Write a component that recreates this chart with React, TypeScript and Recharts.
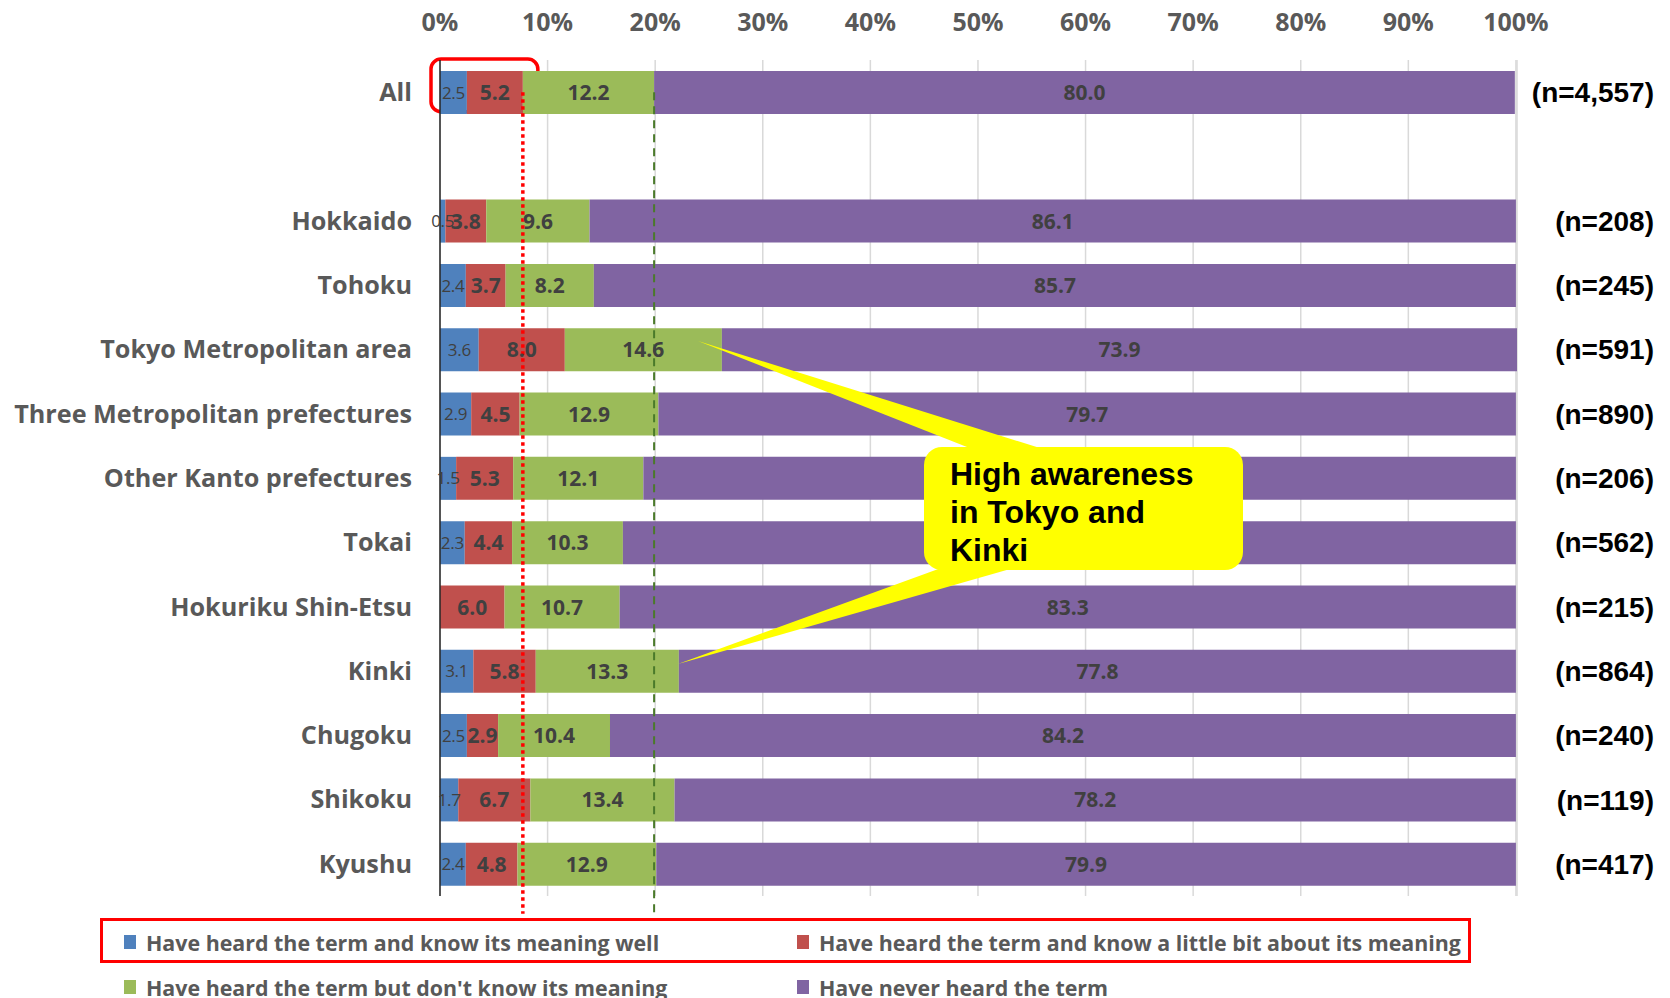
import React from 'react';
import {
  BarChart,
  Bar,
  XAxis,
  YAxis,
  CartesianGrid,
  LabelList,
  ReferenceLine,
  ReferenceArea,
  Legend,
} from 'recharts';

// Regions (the blank entry leaves a gap below "All")
const categories = [
  'All',
  ' ',
  'Hokkaido',
  'Tohoku',
  'Tokyo Metropolitan area',
  'Three Metropolitan prefectures',
  'Other Kanto prefectures',
  'Tokai',
  'Hokuriku Shin-Etsu',
  'Kinki',
  'Chugoku',
  'Shikoku',
  'Kyushu',
];

// Shares in percent
const knowWell = [2.5, null, 0.5, 2.4, 3.6, 2.9, 1.5, 2.3, 0.0, 3.1, 2.5, 1.7, 2.4];
const knowLittle = [5.2, null, 3.8, 3.7, 8.0, 4.5, 5.3, 4.4, 6.0, 5.8, 2.9, 6.7, 4.8];
const noMeaning = [12.2, null, 9.6, 8.2, 14.6, 12.9, 12.1, 10.3, 10.7, 13.3, 10.4, 13.4, 12.9];
const neverHeard = [80.0, null, 86.1, 85.7, 73.9, 79.7, 81.1, 83.0, 83.3, 77.8, 84.2, 78.2, 79.9];

// Respondents per region
const sampleSizes = [4557, null, 208, 245, 591, 890, 206, 562, 215, 864, 240, 119, 417];

const percentTicks = [0, 10, 20, 30, 40, 50, 60, 70, 80, 90, 100];

const LABEL_FONT = '"Open Sans", Lato, sans-serif';
const ARIAL = '"Liberation Sans", Arial, sans-serif';
const TEXT_GRAY = '#595959';
const VALUE_GRAY = '#404040';

const series = [
  { key: 'knowWell', name: 'Have heard the term and know its meaning well', color: '#4F81BD', fontSize: 17, fontWeight: 400, spacing: -0.3 },
  { key: 'knowLittle', name: 'Have heard the term and know a little bit about its meaning', color: '#C0504D', fontSize: 21, fontWeight: 700, spacing: 0 },
  { key: 'noMeaning', name: "Have heard the term but don't know its meaning", color: '#9BBB59', fontSize: 21, fontWeight: 700, spacing: 0 },
  { key: 'neverHeard', name: 'Have never heard the term', color: '#8064A2', fontSize: 21, fontWeight: 700, spacing: 0 },
];

const data = categories.map((name, i) => ({
  name,
  knowWell: knowWell[i],
  knowLittle: knowLittle[i],
  noMeaning: noMeaning[i],
  neverHeard: neverHeard[i],
  n: sampleSizes[i],
}));

// Cumulative shares for the "All" row, used by the guide lines
const knowSomeAll = (knowWell[0] as number) + (knowLittle[0] as number);
const heardAll = knowSomeAll + (noMeaning[0] as number);

const formatN = (n: number | null) => (n == null ? '' : `(n=${n.toLocaleString('en-US')})`);

function segmentLabel(fontSize: number, fontWeight: number, spacing: number) {
  return (props: any) => {
    const v = props.value;
    if (v === null || v === undefined || v === 0) return null;
    const vb = props.viewBox ?? props;
    const cx = vb.x + vb.width / 2;
    const cy = vb.y + vb.height / 2;
    return (
      <text
        x={cx}
        y={cy}
        dy="0.36em"
        textAnchor="middle"
        fontFamily={LABEL_FONT}
        fontSize={fontSize}
        fontWeight={fontWeight}
        letterSpacing={spacing}
        fill={VALUE_GRAY}
      >
        {Number(v).toFixed(1)}
      </text>
    );
  };
}

const guideLine = (stroke: string, width: number, dash: string) => (props: any) => (
  <line
    x1={props.x1}
    y1={props.y1}
    x2={props.x2}
    y2={props.y2 + 50}
    stroke={stroke}
    strokeWidth={width}
    strokeDasharray={dash}
  />
);

const highlightBox = (props: any) => (
  <rect
    x={props.x - 9}
    y={props.y - 1}
    width={props.width + 24}
    height={props.height * 0.82}
    rx={10}
    ry={10}
    fill="none"
    stroke="#FF0000"
    strokeWidth={3.5}
  />
);

const nTick = (props: any) => {
  const idx = props.payload?.index ?? categories.indexOf(props.payload?.value);
  return (
    <text
      x={props.x + 137}
      y={props.y}
      dy="0.36em"
      textAnchor="end"
      fontFamily={ARIAL}
      fontSize={28}
      fontWeight={700}
      fill="#000000"
    >
      {formatN(sampleSizes[idx] ?? null)}
    </text>
  );
};

const legendContent = () => (
  <div style={{ position: 'relative', width: 1380, height: 82, fontFamily: LABEL_FONT }}>
    <div
      style={{
        position: 'absolute',
        left: 1,
        top: 2,
        width: 1371,
        height: 45,
        border: '3.5px solid #FF0000',
        boxSizing: 'border-box',
      }}
    />
    {series.map((s, i) => {
      const col = i % 2;
      const row = Math.floor(i / 2);
      const left = col === 0 ? 25 : 698;
      const centerY = row === 0 ? 26 : 71;
      return (
        <div
          key={s.key}
          style={{
            position: 'absolute',
            left,
            top: centerY - 14,
            height: 28,
            display: 'flex',
            alignItems: 'center',
            whiteSpace: 'nowrap',
          }}
        >
          <span style={{ display: 'inline-block', width: 12, height: 14, background: s.color, marginRight: 10 }} />
          <span style={{ fontSize: 21.4, fontWeight: 700, color: TEXT_GRAY }}>{s.name}</span>
        </div>
      );
    })}
  </div>
);

export default function App() {
  return (
    <div style={{ position: 'absolute', left: 0, top: 0, width: 1670, height: 998, background: '#FFFFFF' }}>
      <BarChart
        width={1670}
        height={998}
        data={data}
        layout="vertical"
        margin={{ top: 0, right: 0, bottom: 102, left: 0 }}
        barSize={43}
      >
        <CartesianGrid horizontal={false} stroke="#D9D9D9" strokeWidth={1.5} yAxisId="left" />
        <XAxis
          type="number"
          orientation="top"
          domain={[0, 100]}
          ticks={percentTicks}
          tickFormatter={(v: number) => `${v}%`}
          height={60}
          axisLine={false}
          tickLine={false}
          tickSize={0}
          tickMargin={29}
          interval={0}
          tick={{ fontFamily: LABEL_FONT, fontSize: 25, fontWeight: 700, fill: TEXT_GRAY }}
        />
        <YAxis
          yAxisId="left"
          type="category"
          dataKey="name"
          width={440}
          interval={0}
          axisLine={{ stroke: '#262626', strokeWidth: 1.5 }}
          tickLine={false}
          tickSize={0}
          tickMargin={28}
          tick={{ fontFamily: LABEL_FONT, fontSize: 25.2, fontWeight: 700, fill: TEXT_GRAY }}
        />
        <YAxis
          yAxisId="right"
          orientation="right"
          type="category"
          dataKey="name"
          width={153}
          interval={0}
          axisLine={false}
          tickLine={false}
          tickSize={0}
          tickMargin={0}
          tick={nTick}
        />
        {series.map((s) => (
          <Bar
            key={s.key}
            yAxisId="left"
            dataKey={s.key}
            name={s.name}
            stackId="share"
            fill={s.color}
            isAnimationActive={false}
          >
            <LabelList dataKey={s.key} content={segmentLabel(s.fontSize, s.fontWeight, s.spacing)} />
          </Bar>
        ))}
        <ReferenceArea
          yAxisId="left"
          x1={0}
          x2={knowSomeAll}
          y1="All"
          y2="All"
          shape={highlightBox}
          ifOverflow="visible"
        />
        <ReferenceLine
          yAxisId="left"
          segment={[
            { x: knowSomeAll, y: 'All' },
            { x: knowSomeAll, y: 'Kyushu' },
          ]}
          shape={guideLine('#FF0000', 3.5, '3.5 3.5')}
          ifOverflow="visible"
        />
        <ReferenceLine
          yAxisId="left"
          segment={[
            { x: heardAll, y: 'All' },
            { x: heardAll, y: 'Kyushu' },
          ]}
          shape={guideLine('#4A7A2A', 2, '8 6')}
          ifOverflow="visible"
        />
        <Legend
          layout="horizontal"
          verticalAlign="middle"
          align="center"
          wrapperStyle={{ top: 916, left: 99, width: 1380, height: 82 }}
          content={legendContent}
        />
      </BarChart>
      <svg
        width={1670}
        height={998}
        style={{ position: 'absolute', left: 0, top: 0, pointerEvents: 'none' }}
      >
        <polygon points="698,341 1000,460 1078,460" fill="#FFFF00" />
        <polygon points="678,664 974,556 1056,556" fill="#FFFF00" />
        <rect x={924} y={447} width={319} height={123} rx={18} ry={18} fill="#FFFF00" />
        <text fontFamily={ARIAL} fontSize={32} fontWeight={700} fill="#000000">
          <tspan x={950} y={485}>High awareness</tspan>
          <tspan x={950} y={523}>in Tokyo and</tspan>
          <tspan x={950} y={561}>Kinki</tspan>
        </text>
      </svg>
    </div>
  );
}
